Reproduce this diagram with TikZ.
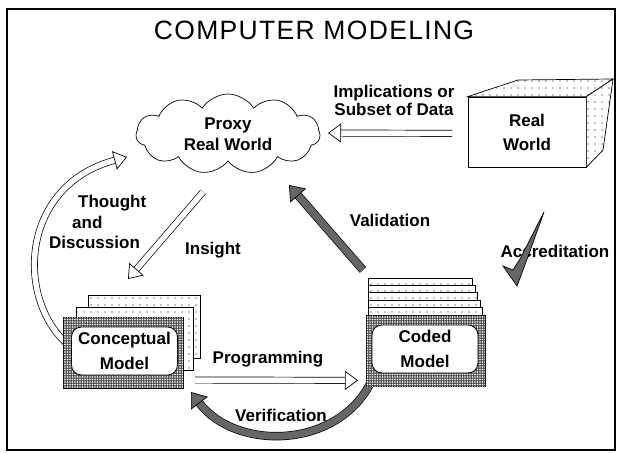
\documentclass[tikz,border=0pt]{standalone}
\usepackage{fontspec}
\setmainfont{Liberation Sans}
\newfontfamily\titleFont[LetterSpace=5]{Liberation Sans}
\usetikzlibrary{shapes.symbols, arrows.meta, patterns}
\pgfdeclarepatternformonly{paperDots}{\pgfqpoint{-0.6pt}{-0.6pt}}{\pgfqpoint{0.6pt}{0.6pt}}{\pgfqpoint{7pt}{7pt}}{\pgfpathcircle{\pgfqpoint{0pt}{0pt}}{0.55pt}\pgfusepath{fill}}
\pgfdeclarepatternformonly{halfTone}{\pgfqpoint{-1pt}{-1pt}}{\pgfqpoint{1pt}{1pt}}{\pgfqpoint{2.5pt}{2.5pt}}{\pgfpathcircle{\pgfqpoint{0pt}{0pt}}{0.95pt}\pgfusepath{fill}}
\definecolor{halfGray}{gray}{0.4}

\begin{document}
\begin{tikzpicture}[x = 1pt, y = -1pt]
\tikzstyle{labelStyle} = [font = \fontsize{17}{20}\selectfont\bfseries, inner sep = 0pt]
\tikzstyle{paperStyle} = [draw, line width = 0.7pt, fill = white, postaction = {pattern = paperDots}]
\tikzstyle{cardStyle} = [draw, line width = 0.8pt, fill = black!70, postaction = {pattern = halfTone, pattern color = white}, minimum height = 71pt, inner sep = 0pt]
\tikzstyle{faceStyle} = [draw, fill = white, rounded corners = 10pt, line width = 0.8pt, minimum width = 106pt, minimum height = 48pt, align = center, inner sep = 0pt, font = \fontsize{17}{25}\selectfont\bfseries]
\tikzstyle{hollowStyle} = [draw, line width = 0.7pt, double = white, double distance = 5.5pt, -{Triangle[length = 13pt, width = 19pt, fill = white, line width = 0.7pt]}]
\tikzstyle{shadedStyle} = [draw, line width = 0.7pt, double = halfGray, double distance = 7pt, -{Triangle[length = 14pt, width = 21pt, fill = halfGray, line width = 0.7pt]}]
\useasboundingbox (0,0) rectangle (617,452);
\draw[line width = 1.5pt] (7,9) rectangle (615,450);
\node[font = \titleFont\fontsize{26.5}{30}\selectfont, anchor = base, inner sep = 0pt] (title) at (314,39) {COMPUTER MODELING};
\node[draw, cloud, cloud puffs = 11, cloud puff arc = 115, aspect = 2.3, minimum width = 184pt, minimum height = 80pt, line width = 0.7pt, align = center, inner sep = 0pt, font = \fontsize{17}{21}\selectfont\bfseries] (proxy) at (228,134) {Proxy\\Real World};
\node[draw, fill = white, line width = 0.7pt, minimum width = 118pt, minimum height = 70pt, align = center, inner sep = 0pt, font = \fontsize{17}{24}\selectfont\bfseries] (real) at (527,132) {Real\\World};
\draw[paperStyle] (real.north west) -- (518,80) -- (613,79) -- (real.north east) -- cycle;
\draw[paperStyle] (real.north east) -- (613,79) -- (603,150) -- (real.south east) -- cycle;
\coordinate (dataTail) at (452,133.4);
\coordinate (dataTip) at (328,133);
\coordinate (thoughtTail) at (66,343);
\coordinate (thoughtTip) at (127,157);
\coordinate (insightTail) at (203,192);
\coordinate (insightTip) at (128,279);
\coordinate (progTail) at (195,380);
\coordinate (progTip) at (358,380.4);
\coordinate (validTail) at (363,270);
\coordinate (validTip) at (289,185);
\coordinate (verifTail) at (370,384);
\coordinate (verifTip) at (191,392);
\draw[hollowStyle] (dataTail) -- (dataTip);
\draw[hollowStyle] (thoughtTail) .. controls (15,295) and (22,185) .. (thoughtTip);
\draw[hollowStyle] (insightTail) -- (insightTip);
\draw[hollowStyle] (progTail) -- (progTip);
\draw[shadedStyle] (validTail) -- (validTip);
\draw[shadedStyle] (verifTail) .. controls (335,450) and (235,450) .. (verifTip);
\draw[paperStyle] (88,295) rectangle (200,358);
\draw[paperStyle] (76,307) rectangle (193,370);
\node[cardStyle, minimum width = 120pt] (concept) at (123,352.5) {};
\node[faceStyle] (conceptFace) at (124.5,351) {Conceptual\\Model};
\draw[paperStyle] (368,278) rectangle (472.5,315);
\draw[paperStyle] (368,285.4) rectangle (475,315);
\draw[paperStyle] (368,292.8) rectangle (477.5,315);
\draw[paperStyle] (368,300.2) rectangle (480,315);
\draw[paperStyle] (368,307.6) rectangle (482.5,315);
\node[cardStyle, minimum width = 119pt] (coded) at (425.5,350.5) {};
\node[faceStyle] (codedFace) at (425,349) {Coded\\Model};
\node[labelStyle, align = center, font = \fontsize{17}{18}\selectfont\bfseries] (dataLabel) at (394,100) {Implications or\\Subset of Data};
\node[labelStyle, align = left, anchor = north west, font = \fontsize{17}{20.5}\selectfont\bfseries] (thoughtLabel) at (49,195) {\hspace*{29pt}Thought\\\hspace*{23pt}and\\Discussion};
\node[labelStyle, anchor = base] (insightLabel) at (213,254) {Insight};
\node[labelStyle, anchor = base] (validLabel) at (390,226) {Validation};
\node[labelStyle, anchor = base] (accredLabel) at (555,257) {Accreditation};
\node[labelStyle, anchor = base] (progLabel) at (268,363) {Programming};
\node[labelStyle, anchor = base] (verifLabel) at (281,421) {Verification};
\draw[line width = 0.7pt, fill = halfGray] (544,212) -- (526,262) -- (517,286) -- (503,266) -- (513,270) -- (520,259) -- cycle;
\end{tikzpicture}
\end{document}
